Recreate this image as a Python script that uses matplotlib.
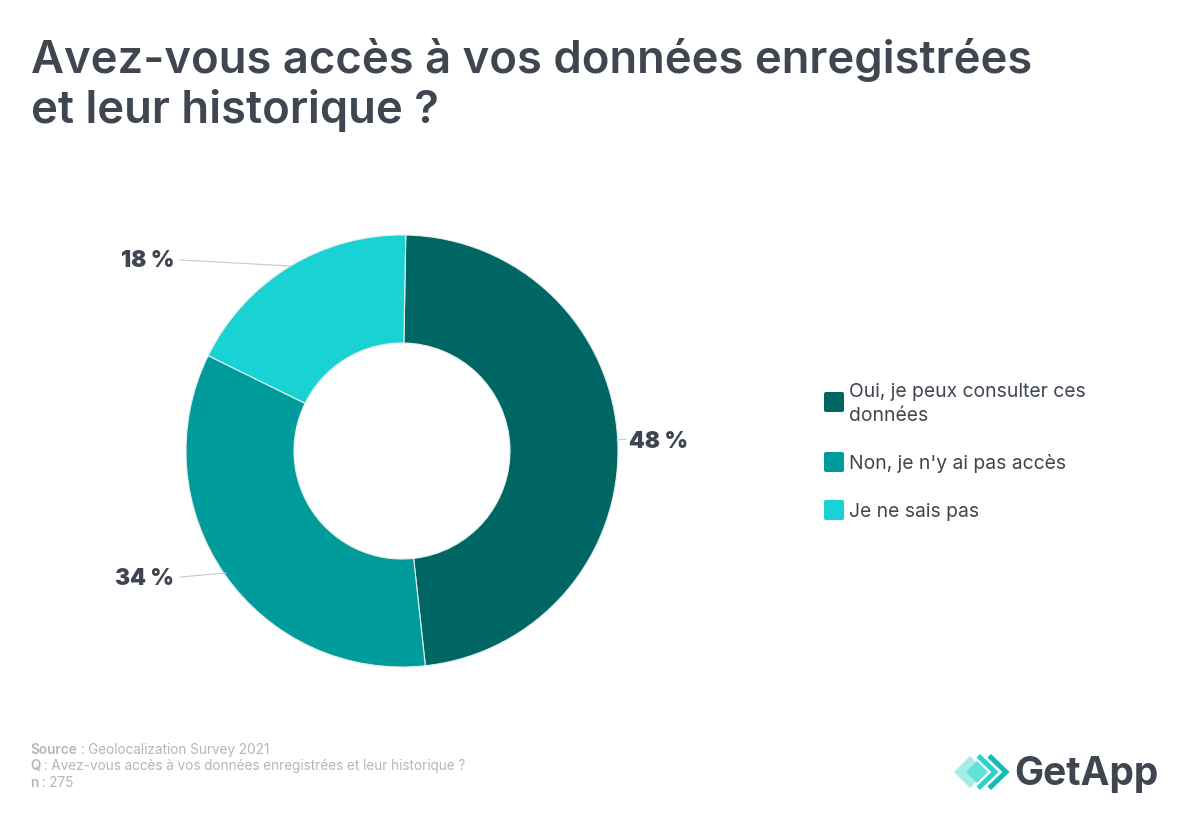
#!/usr/bin/env python3

import matplotlib
matplotlib.use('Agg')
import matplotlib.pyplot as plt
from matplotlib.patches import FancyBboxPatch, Polygon

categories = ['Oui, je peux consulter ces\ndonnées', "Non, je n'y ai pas accès", 'Je ne sais pas']
values = [48, 34, 18]
value_labels = ['48 %', '34 %', '18 %']
colors = ['#006663', '#009C9C', '#18D2D4']

title = 'Avez-vous accès à vos données enregistrées\net leur historique ?'
notes = [('Source', ' : Geolocalization Survey 2021'),
         ('Q', ' : Avez-vous accès à vos données enregistrées et leur historique ?'),
         ('n', ' : 275')]

DARK = '#3F4650'
GREY = '#B4B6B9'
plt.rcParams['font.family'] = ['Inter', 'DejaVu Sans']

fig = plt.figure(figsize=(12, 8.2), dpi=100)

# overlay in pixel coordinates for text and furniture
over = fig.add_axes([0, 0, 1, 1], zorder=2)
over.set_xlim(0, 1200)
over.set_ylim(820, 0)
over.axis('off')

# donut
cx, cy, r = 402, 452, 216
ax = fig.add_axes([(cx - r) / 1200, 1 - (cy + r) / 820, 2 * r / 1200, 2 * r / 820], zorder=1)
ax.pie(values, colors=colors, startangle=89, counterclock=False, radius=1,
       wedgeprops=dict(width=0.5, edgecolor='#E4EEEE', linewidth=0.8))
ax.set_xlim(-1, 1)
ax.set_ylim(-1, 1)

# leader lines and value labels
leaders = [((617, 441), (626, 440)), ((180, 578), (226, 574)), ((180, 261), (290, 267))]
label_pos = [(629, 441, 'left'), (174, 578, 'right'), (174, 260, 'right')]
for lab, (p0, p1), (x, y, ha) in zip(value_labels, leaders, label_pos):
    over.plot([p0[0], p1[0]], [p0[1], p1[1]], color='#C8C8C8', lw=0.8)
    over.text(x, y + 1, lab, fontsize=16.2, fontweight='black', color=DARK, ha=ha, va='center')

# title
over.text(31, 60, title.split('\n')[0], fontsize=32.7, fontweight='semibold', color=DARK, va='center')
over.text(31, 111, title.split('\n')[1], fontsize=32.7, fontweight='semibold', color=DARK, va='center')

# legend
legend_y = [403, 463, 511]
for cat, col, y in zip(categories, colors, legend_y):
    over.add_patch(FancyBboxPatch((824, y - 10), 20, 20, boxstyle='round,pad=0,rounding_size=2',
                                  fc=col, ec='none'))
    for i, line in enumerate(cat.split('\n')):
        over.text(849, y - 11 + 24 * i if '\n' in cat else y + 1, line, fontsize=13.9,
                  color=DARK, va='center')

# footnotes, bold key followed by regular text
renderer = fig.canvas.get_renderer()
for (key, rest), y in zip(notes, [750, 766, 783]):
    t = over.text(30, y, key, fontsize=9.75, fontweight='semibold', color=GREY, va='center')
    w = t.get_window_extent(renderer).width
    over.text(30 + w, y, rest, fontsize=9.75, color=GREY, va='center')

# logo
over.add_patch(Polygon([(954, 773), (970, 757), (986, 773), (970, 789)], fc='#A5ECE8', ec='none'))
over.add_patch(Polygon([(966, 773), (977, 762), (988, 773), (977, 784)], fc='#62E0DA', ec='none'))
over.plot([980, 995, 980], [758.5, 773, 787.5], color='#26D2CC', lw=3.6, solid_joinstyle='miter')
over.plot([991, 1006, 991], [758.5, 773, 787.5], color='#14BBB4', lw=3.6, solid_joinstyle='miter')
over.text(1014, 775, 'GetApp', fontsize=28, fontweight='bold', color=DARK, va='center')

fig.savefig('out.png', dpi=100)
